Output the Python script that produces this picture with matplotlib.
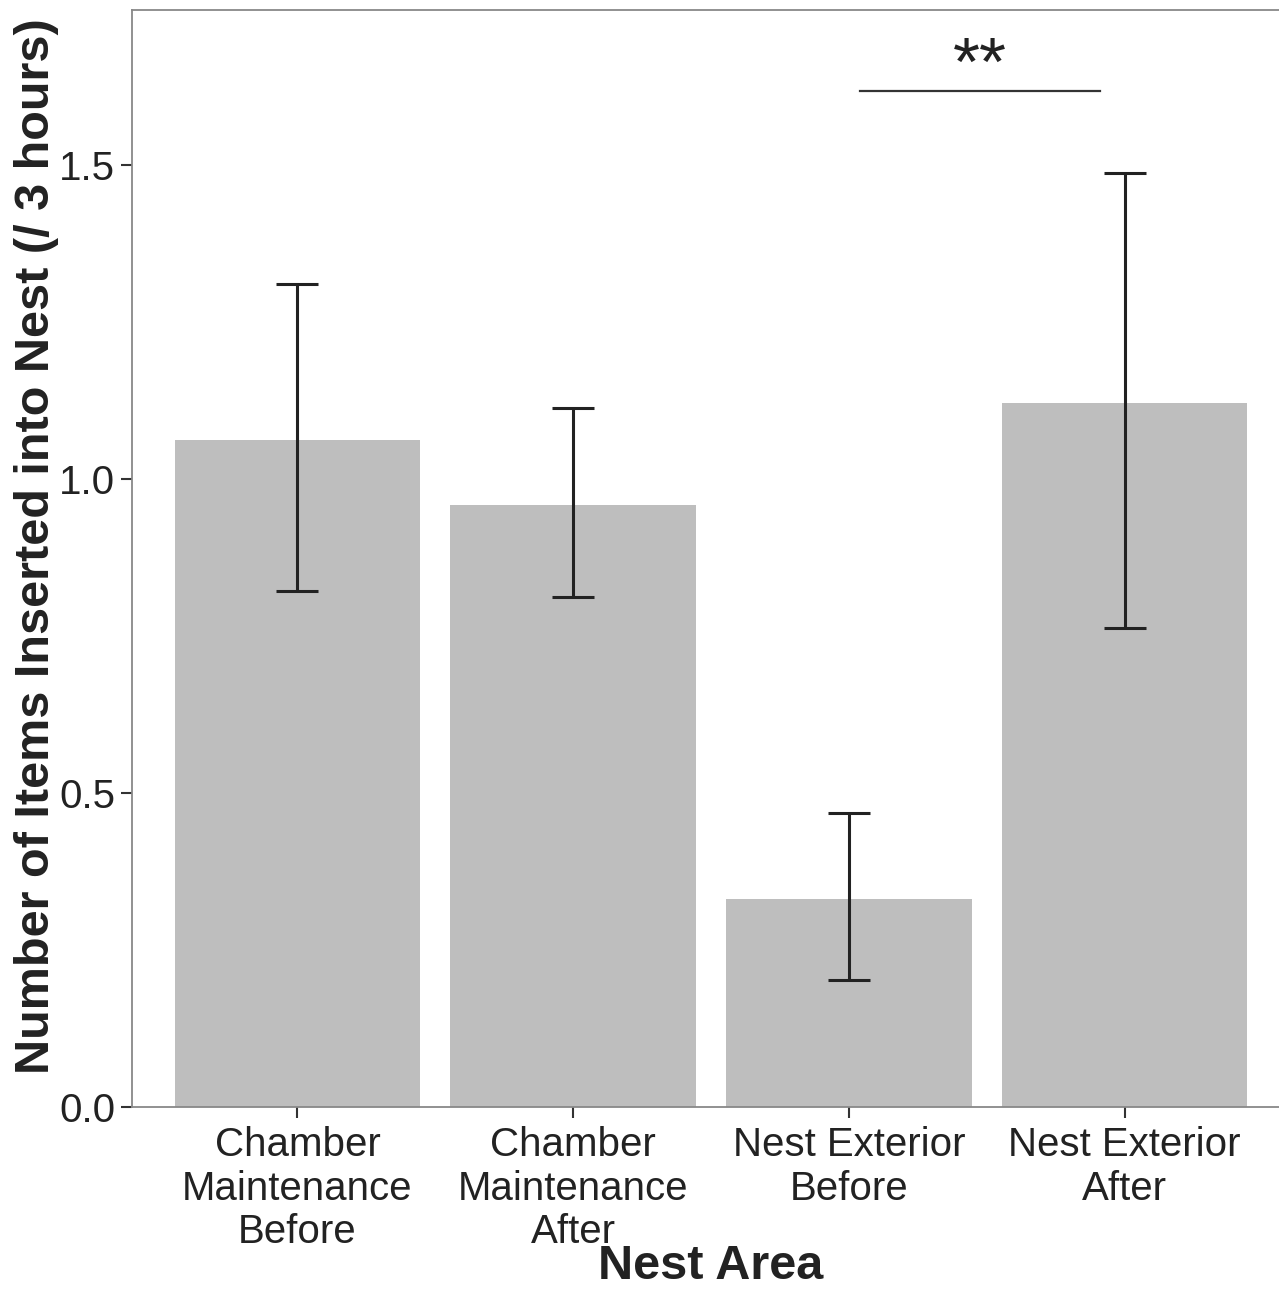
import matplotlib
matplotlib.use("Agg")
import matplotlib.pyplot as plt

plt.rcParams["font.family"] = ["Liberation Sans", "DejaVu Sans"]

# values
categories = ["Chamber\nMaintenance\nBefore", "Chamber\nMaintenance\nAfter",
              "Nest Exterior\nBefore", "Nest Exterior\nAfter"]
means = [1.062, 0.959, 0.331, 1.121]
err_low = [0.822, 0.812, 0.202, 0.763]
err_high = [1.311, 1.113, 0.468, 1.487]
sig_bracket = (3.04, 3.91, 1.618)
sig_label = "**"

fig = plt.figure(figsize=(12.79, 12.90), dpi=100)
ax = fig.add_axes([132 / 1279, 183 / 1290, 1158 / 1279, 1097 / 1290])

x = list(range(1, len(categories) + 1))
ax.bar(x, means, width=0.89, color="#bebebe", zorder=1)
yerr = [[m - lo for m, lo in zip(means, err_low)],
        [hi - m for m, hi in zip(means, err_high)]]
ax.errorbar(x, means, yerr=yerr, fmt="none", ecolor="#222222",
            elinewidth=2.2, capsize=15, capthick=2.2, zorder=2)

x0, x1, yb = sig_bracket
ax.plot([x0, x1], [yb, yb], color="#333333", lw=1.6)
ax.text((x0 + x1) / 2, 1.627, sig_label, ha="center", va="baseline",
        fontsize=50, color="#222222")

ax.set_xlim(0.4, 4.6)
ax.set_ylim(0, 1.747)
ax.set_xticks(x)
ax.set_xticklabels(categories, fontsize=29, color="#222222", linespacing=1.17)
ax.set_yticks([0.0, 0.5, 1.0, 1.5])
ax.set_yticklabels(["0.0", "0.5", "1.0", "1.5"], fontsize=29, color="#222222")
ax.tick_params(axis="y", length=8, width=1.5, color="#333333", pad=4)
ax.tick_params(axis="x", length=8, width=1.5, color="#333333", pad=6)

for s in ax.spines.values():
    s.set_color("#888888")
    s.set_linewidth(1.3)

ax.set_xlabel("Nest Area", fontsize=35, fontweight="bold", color="#222222")
ax.xaxis.set_label_coords(0.5, -0.1245)
ax.set_ylabel("Number of Items Inserted into Nest (/ 3 hours)", fontsize=35,
              fontweight="bold", color="#222222")
ax.yaxis.set_label_coords(-0.063, 0.511)

fig.savefig("out.png", dpi=100)
